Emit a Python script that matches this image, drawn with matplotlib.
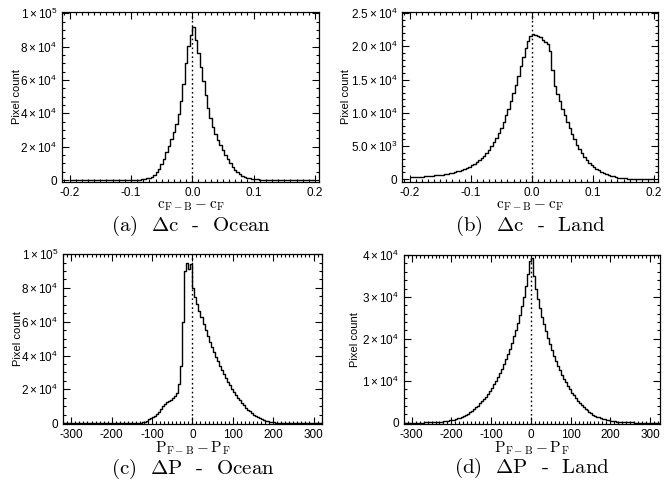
import numpy as np
import matplotlib
matplotlib.use('Agg')
import matplotlib.pyplot as plt
from matplotlib.ticker import FixedLocator, FixedFormatter, MultipleLocator

plt.rcParams['font.family'] = ['Liberation Sans', 'DejaVu Sans']
plt.rcParams['mathtext.fontset'] = 'custom'
plt.rcParams['mathtext.rm'] = 'Liberation Sans'
plt.rcParams['mathtext.it'] = 'Liberation Sans:italic'
plt.rcParams['mathtext.bf'] = 'Liberation Sans:bold'

# ---- data (histogram bin centres and counts) ----
c_bins = np.linspace(-0.198, 0.198, 100)   # bin width 0.004
p_bins = np.linspace(-317.5, 317.5, 128)   # bin width 5

dc_ocean = [0, 0, 0, 0, 0, 0, 0, 0, 0, 0,
            0, 0, 0, 0, 0, 0, 1, 2, 3, 5,
            8, 12, 20, 30, 45, 70, 110, 170, 260, 400,
            620, 950, 1400, 2100, 3100, 4600, 6800, 9500, 12800, 16500,
            20500, 24500, 28500, 33500, 39500, 47500, 57500, 70000, 80500, 87000,
            92000, 84000, 76000, 68000, 59500, 51000, 43000, 37000, 32000, 27500,
            24000, 20800, 17800, 15000, 12400, 10000, 8000, 6300, 4900, 3700,
            2700, 1950, 1400, 980, 680, 460, 310, 200, 130, 80,
            50, 30, 18, 10, 5, 2, 0, 0, 0, 0,
            0, 0, 0, 0, 0, 0, 0, 0, 0, 0]

dc_land = [260, 280, 300, 320, 340, 370, 400, 430, 460, 500,
           540, 580, 630, 680, 740, 810, 880, 960, 1050, 1150,
           1260, 1380, 1520, 1680, 1860, 2060, 2290, 2550, 2840, 3170,
           3540, 3960, 4430, 4950, 5550, 6200, 6950, 7750, 8650, 9600,
           10600, 11700, 12900, 14200, 15600, 17000, 18400, 19700, 20800, 21600,
           21900, 21700, 21500, 21400, 21000, 20600, 20300, 19300, 16500, 14000,
           12800, 11700, 10600, 9600, 8600, 7700, 6800, 6000, 5200, 4500,
           3900, 3350, 2850, 2450, 2100, 1800, 1550, 1330, 1130, 950,
           780, 630, 500, 390, 300, 220, 160, 115, 85, 60,
           45, 33, 25, 18, 12, 9, 7, 5, 4, 3]

dp_ocean = [0, 0, 0, 0, 0, 0, 0, 0, 0, 0,
            0, 0, 0, 0, 0, 0, 0, 0, 0, 0,
            0, 0, 0, 0, 0, 0, 0, 0, 0, 0,
            0, 0, 0, 0, 0, 0, 0, 0, 100, 400,
            900, 1500, 2200, 2900, 3700, 4500, 5500, 6600, 8500, 10000,
            11300, 12300, 13100, 13800, 14600, 16000, 18000, 23000, 34000, 60000,
            90000, 94500, 91000, 94000, 80000, 74500, 70500, 66500, 62500, 58500,
            55000, 51500, 48000, 45000, 42000, 39200, 36500, 34000, 31500, 29000,
            26700, 24500, 22400, 20400, 18500, 16700, 15000, 13400, 11900, 10500,
            9200, 8000, 6900, 5900, 5000, 4200, 3500, 2900, 2350, 1900,
            1500, 1150, 850, 620, 440, 300, 200, 130, 80, 50,
            30, 15, 8, 4, 0, 0, 0, 0, 0, 0,
            0, 0, 0, 0, 0, 0, 0, 0]

dp_land = [8, 10, 12, 15, 18, 22, 27, 33, 40, 48,
           58, 70, 84, 100, 118, 140, 170, 200, 235, 280,
           330, 390, 460, 540, 640, 750, 880, 1030, 1210, 1410,
           1640, 1900, 2180, 2500, 2850, 3250, 3650, 4100, 4600, 5100,
           5650, 6250, 6900, 7600, 8350, 9150, 10000, 10900, 11900, 12900,
           14000, 15200, 16400, 17700, 19100, 20600, 22200, 23900, 25800, 27800,
           30000, 32500, 35500, 38500, 39400, 35000, 32000, 29500, 27300, 25300,
           23500, 21800, 20200, 18700, 17300, 16000, 14800, 13600, 12500, 11500,
           10500, 9600, 8750, 7950, 7200, 6500, 5850, 5250, 4700, 4200,
           3750, 3320, 2930, 2580, 2250, 1960, 1700, 1470, 1260, 1080,
           920, 780, 660, 560, 470, 395, 330, 275, 230, 190,
           160, 132, 110, 90, 75, 62, 51, 42, 35, 28,
           23, 19, 15, 12, 10, 8, 6, 5]

c_ticks = [-0.2, -0.1, 0.0, 0.1, 0.2]
c_ticklabels = ['-0.2', '-0.1', '0.0', '0.1', '0.2']
p_ticks = [-300, -200, -100, 0, 100, 200, 300]
p_ticklabels = ['-300', '-200', '-100', '0', '100', '200', '300']

ocean_yticks = [0, 2e4, 4e4, 6e4, 8e4, 1e5]
ocean_yticklabels = ['0', r'$2\times10^{4}$', r'$4\times10^{4}$', r'$6\times10^{4}$',
                     r'$8\times10^{4}$', r'$1\times10^{5}$']
land_c_yticks = [0, 5e3, 1e4, 1.5e4, 2e4, 2.5e4]
land_c_yticklabels = ['0', r'$5.0\times10^{3}$', r'$1.0\times10^{4}$', r'$1.5\times10^{4}$',
                      r'$2.0\times10^{4}$', r'$2.5\times10^{4}$']
land_p_yticks = [0, 1e4, 2e4, 3e4, 4e4]
land_p_yticklabels = ['0', r'$1\times10^{4}$', r'$2\times10^{4}$', r'$3\times10^{4}$',
                      r'$4\times10^{4}$']

fig = plt.figure(figsize=(6.64, 4.8), dpi=100)


def panel(rect, centers, counts, xlim, ylim, xticks, xticklabels, xminor,
          yticks, yticklabels, yminor, xlabel, caption, ylab_x):
    ax = fig.add_axes(rect)
    ax.step(centers, counts, where='mid', color='k', lw=1.0)
    ax.axvline(0, color='k', lw=1.0, ls=(0, (1.2, 2)))
    ax.set_xlim(xlim)
    ax.set_ylim(ylim)
    ax.xaxis.set_major_locator(FixedLocator(xticks))
    ax.xaxis.set_major_formatter(FixedFormatter(xticklabels))
    ax.yaxis.set_major_locator(FixedLocator(yticks))
    ax.yaxis.set_major_formatter(FixedFormatter(yticklabels))
    ax.xaxis.set_minor_locator(MultipleLocator(xminor))
    ax.yaxis.set_minor_locator(MultipleLocator(yminor))
    ax.tick_params(which='both', direction='in', top=True, right=True,
                   width=0.8, labelsize=8.5, pad=3.5)
    ax.tick_params(which='major', length=5)
    ax.tick_params(which='minor', length=2.5)
    for s in ax.spines.values():
        s.set_linewidth(0.9)
    ax.set_ylabel('Pixel count', fontsize=8)
    ax.yaxis.set_label_coords(ylab_x, 0.5)
    ax.text(0.5, -0.143, xlabel, transform=ax.transAxes, ha='center', va='center',
            fontsize=11, math_fontfamily='cm')
    ax.text(0.5, -0.262, caption, transform=ax.transAxes, ha='center', va='center',
            fontsize=15, family='cmr10', math_fontfamily='cm')
    return ax


panel([0.0938, 0.6215, 0.387, 0.353], c_bins, dc_ocean, (-0.212, 0.207), (-1000, 1.006e5),
      c_ticks, c_ticklabels, 0.01, ocean_yticks, ocean_yticklabels, 5e3,
      r'$\mathrm{c_{F-B} - c_F}$', r'(a)  $\Delta$c  -  Ocean', -0.157)
panel([0.606, 0.6215, 0.3855, 0.353], c_bins, dc_land, (-0.212, 0.207), (-400, 25150),
      c_ticks, c_ticklabels, 0.01, land_c_yticks, land_c_yticklabels, 1e3,
      r'$\mathrm{c_{F-B} - c_F}$', r'(b)  $\Delta$c  -  Land', -0.202)
panel([0.0953, 0.1167, 0.389, 0.354], p_bins, dp_ocean, (-320, 320), (-500, 1.0e5),
      p_ticks, p_ticklabels, 10, ocean_yticks, ocean_yticklabels, 5e3,
      r'$\mathrm{P_{F-B} - P_F}$', r'(c)  $\Delta$P  -  Ocean', -0.157)
panel([0.608, 0.1167, 0.386, 0.352], p_bins, dp_land, (-320, 325), (-300, 4.0e4),
      p_ticks, p_ticklabels, 10, land_p_yticks, land_p_yticklabels, 2e3,
      r'$\mathrm{P_{F-B} - P_F}$', r'(d)  $\Delta$P  -  Land', -0.169)

fig.savefig('out.png', dpi=100)
